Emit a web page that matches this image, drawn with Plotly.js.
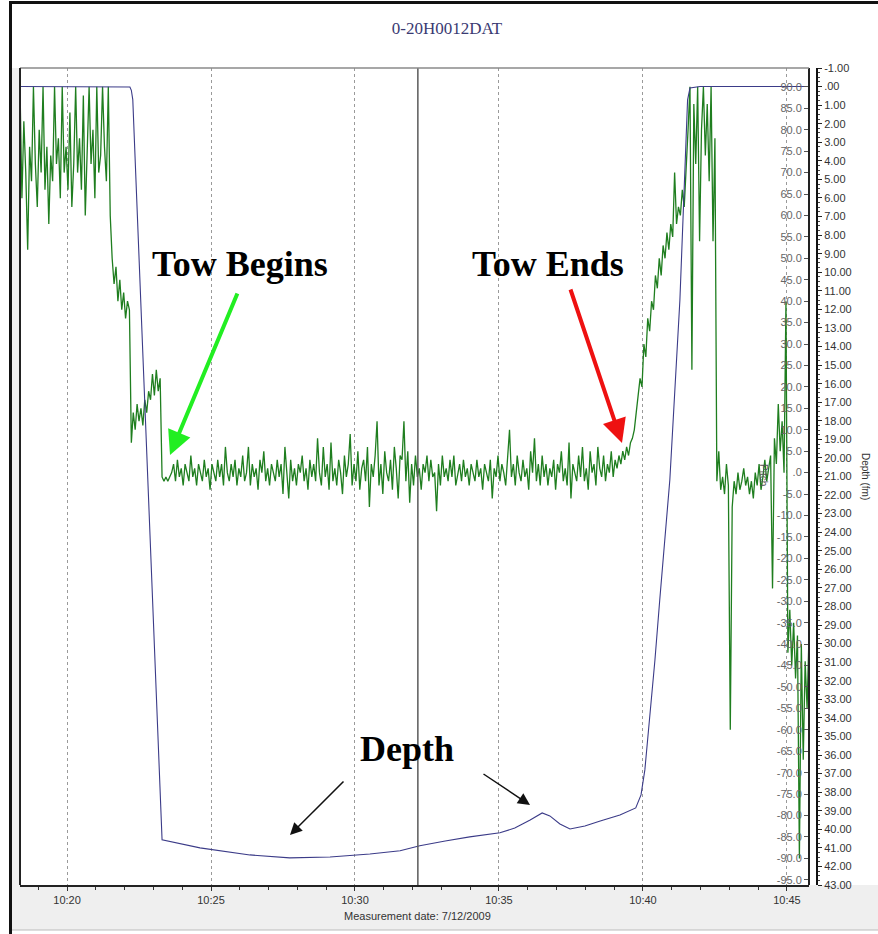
<!DOCTYPE html>
<html><head><meta charset="utf-8">
<script src="https://cdn.plot.ly/plotly-3.0.1.min.js"></script>
<style>
html,body{margin:0;padding:0;background:#fff;width:878px;height:934px;overflow:hidden}
#frame{position:absolute;left:9px;top:1px;width:869px;height:933px;border-left:3px solid #111;border-top:3px solid #111;box-sizing:border-box}
#chart{position:absolute;left:12px;top:4px;width:866px;height:930px}
</style></head><body>
<div id="frame"></div>
<div id="chart"></div>
<script>
// ---------- data ----------
const DAY = '2009-07-12';
const chartTitle = '0-20H0012DAT';
const xTitle = 'Measurement date: 7/12/2009';

// Depth (fathoms)
const depthTime = ['10:18:22','10:22:11','10:22:14','10:22:17','10:23:18','10:23:45','10:24:37','10:26:21','10:27:44',
  '10:29:08','10:30:31','10:31:34','10:32:15','10:33:08','10:33:59','10:35:02','10:35:33','10:36:05','10:36:30',
  '10:36:46','10:37:07','10:37:28','10:37:59','10:38:31','10:39:12','10:39:45','10:39:56','10:40:04','10:40:14',
  '10:40:25','10:40:35','10:40:46','10:40:56','10:41:17','10:41:33','10:41:38','10:41:59','10:46:00'];
const depthValue = [0.00,0.02,0.2,0.7,40.57,40.73,41.0,41.38,41.54,
  41.49,41.33,41.16,40.89,40.63,40.41,40.19,39.93,39.50,39.12,
  39.28,39.71,39.98,39.82,39.55,39.23,38.85,38.15,36.80,34.11,
  30.88,27.65,24.42,21.19,11.49,0.72,0.08,0.0,0.0];

// Pitch (deg) logger samples, one every pitchStepSec seconds from pitchStart
const pitchStart = '10:18:22';
const pitchStepSec = 4;
const pitchBeforeTow = [90,64,82,70,52,76,68,90,72,62,80,70,90,66,76,58,74,68,90,72,78,64,90,70,76,66,84,62,72,90,
  70,78,66,88,60,74,90,72,80,64,90,70,74,90,76,68,90,
  60,50,44,48,40,45,38,42,36,40,38,
  7,14,10,16,12,15,11,17,14,19,17,23,18,24,19,22];
const pitchTow = [-1,-2,-1,-2,-1,0,2,-2,3,-1,
  1,-3,2,0,-2,4,-1,1,-3,2,
  0,-2,3,-1,1,-4,2,0,-2,3,
  -1,2,-3,6,0,-2,2,-1,3,-3,
  1,-1,4,-2,0,6,-3,2,-1,1,
  -4,3,0,5,-2,1,-3,2,0,-2,
  3,-1,2,-5,6,0,-6,3,-2,1,
  -3,2,0,4,-2,1,-4,3,-1,2,
  -2,8,0,-3,6,-1,2,-4,7,-2,
  1,-3,3,0,-5,4,-1,2,9,-3,
  2,-2,5,-4,1,3,-2,6,-8,2,
  -1,4,12,-3,2,-5,5,0,-2,3,
  -4,6,1,-6,4,3,12,-2,5,-7,
  2,-3,4,-1,1,-4,2,0,4,-2,
  3,-1,0,-9,2,-3,4,-1,1,-2,
  3,-1,4,-3,0,2,-2,3,-1,1,
  -3,2,0,-2,3,-1,1,-4,2,0,
  -2,3,-6,1,-1,4,-2,2,0,-3,
  3,10,-1,2,-3,4,0,-2,3,-1,
  1,-4,5,0,8,-2,2,-3,4,-1,
  2,-3,1,-1,3,-4,2,0,5,-2,
  1,-3,7,-6,2,0,-2,4,-1,6,
  -2,1,-4,5,0,2,-3,6,1,-1,
  4,-2,2,0,5,-1,3,1,4,2,
  5,3,6,4,7];
const pitchAfterTow = [8,10,14,18,22,20,30,27,36,33,40,38,46,43,50,46,53,50,56,52,58,55,70,58,62,60,66,62,70,80,90,
  24,86,72,90,54,80,90,74,86,68,90,54,78,
  -2,5,-4,-1,-5,2,-3,-60,-8,-2,-5,0,-4,-2,1,-3,-1,-5,-2,-6,0,-3,2,-4,-1,3,-2,1,4,-27,8,2,16,5,12,0,
  40,-42,-32,-45,-35,-48,-38,-90,-40,-67,-44,-55,-38];

// axis ticks
const pitchTickVals = [90,85,80,75,70,65,60,55,50,45,40,35,30,25,20,15,10,5,0,-5,-10,-15,-20,-25,-30,-35,-40,-45,
  -50,-55,-60,-65,-70,-75,-80,-85,-90,-95];
const pitchTickText = ['90.0','85.0','80.0','75.0','70.0','65.0','60.0','55.0','50.0','45.0','40.0','35.0','30.0',
  '25.0','20.0','15.0','10.0','5.0','.0','-5.0','-10.0','-15.0','-20.0','-25.0','-30.0','-35.0','-40.0','-45.0',
  '-50.0','-55.0','-60.0','-65.0','-70.0','-75.0','-80.0','-85.0','-90.0','-95.0'];
const depthTickVals = [-1,0,1,2,3,4,5,6,7,8,9,10,11,12,13,14,15,16,17,18,19,20,21,22,23,24,25,26,27,28,29,30,
  31,32,33,34,35,36,37,38,39,40,41,42,43];
const depthTickText = ['-1.00','.00','1.00','2.00','3.00','4.00','5.00','6.00','7.00','8.00','9.00','10.00',
  '11.00','12.00','13.00','14.00','15.00','16.00','17.00','18.00','19.00','20.00','21.00','22.00','23.00',
  '24.00','25.00','26.00','27.00','28.00','29.00','30.00','31.00','32.00','33.00','34.00','35.00','36.00',
  '37.00','38.00','39.00','40.00','41.00','42.00','43.00'];
const cursorTime = '10:32:11';

// ---------- build ----------
const pitchValue = pitchBeforeTow.concat(pitchTow, pitchAfterTow);
const startMs = new Date(DAY + 'T' + pitchStart + 'Z').getTime();
function fmt(ms){ return new Date(ms).toISOString().replace('T',' ').slice(0,19); }
const pitchTime = pitchValue.map((v,i) => fmt(startMs + i*pitchStepSec*1000));
const depthX = depthTime.map(t => DAY + ' ' + t);

const traces = [
  {x: pitchTime, y: pitchValue, type:'scatter', mode:'lines', yaxis:'y',
   line:{color:'#1f7e1f', width:1.3}, hoverinfo:'skip'},
  {x: depthX, y: depthValue, type:'scatter', mode:'lines', yaxis:'y2',
   line:{color:'#3b3b88', width:1.1}, hoverinfo:'skip'}
];

const XD = 0.98996;
function px2x(p){ return (p-20)/797; }
function py2y(p){ return (885-p)/817; }

const sans = '"Liberation Sans", Arial, sans-serif';
const serifBold = {family:'"Liberation Serif", "Times New Roman", serif', size:36, color:'#000'};
function label(text, px, py, font, extra){
  return Object.assign({text:text, xref:'paper', yref:'paper', x:px2x(px), y:py2y(py),
    xanchor:'center', yanchor:'middle', showarrow:false, font:font}, extra||{});
}
function arrow(tx, ty, ax, ay, color, w, s){
  return {text:'', xref:'paper', yref:'paper', x:px2x(tx), y:py2y(ty), ax:ax, ay:ay, showarrow:true,
    arrowhead:2, arrowsize:s, arrowwidth:w, arrowcolor:color, standoff:0};
}

const layout = {
  width:866, height:930,
  margin:{l:8, r:61, t:64, b:49},
  paper_bgcolor:'#ffffff', plot_bgcolor:'#ffffff',
  showlegend:false,
  title:{text:chartTitle, x:0.5023, xref:'container', xanchor:'center', y:0.974, yref:'container', yanchor:'middle',
         font:{family:'"Liberation Serif", "Times New Roman", serif', size:17, color:'#3a3a72'}},
  xaxis:{type:'date', domain:[0,XD],
    range:[DAY+' 10:18:22', DAY+' 10:45:46'],
    tickmode:'linear', tick0:DAY+' 10:20:00', dtick:300000, tickformat:'%H:%M',
    ticks:'outside', ticklen:4, tickcolor:'#333',
    minor:{dtick:60000, ticks:'outside', ticklen:3, tickcolor:'#333', showgrid:false},
    showgrid:true, gridcolor:'#9a9a9a', griddash:'dot', gridwidth:1,
    showline:true, linecolor:'#222', linewidth:2, mirror:false, zeroline:false,
    tickfont:{family:sans, size:11, color:'#333'}},
  yaxis:{range:[-96.2, 94.4], side:'left', anchor:'free', position:XD,
    tickmode:'array', tickvals:pitchTickVals, ticktext:pitchTickText,
    ticks:'outside', ticklen:4, tickcolor:'#555',
    showgrid:false, zeroline:false, showline:true, linecolor:'#222', linewidth:2,
    tickfont:{family:sans, size:11, color:'#666'}},
  yaxis2:{range:[43,-1], overlaying:'y', side:'right', anchor:'free', position:1,
    tickmode:'array', tickvals:depthTickVals, ticktext:depthTickText,
    ticks:'outside', ticklen:4, tickcolor:'#222',
    minor:{dtick:0.25, ticks:'outside', ticklen:2, tickcolor:'#444'},
    showgrid:false, zeroline:false, showline:true, linecolor:'#111', linewidth:2,
    tickfont:{family:sans, size:11, color:'#333'}},
  shapes:[
    {type:'rect', xref:'paper', yref:'paper', x0:px2x(12), x1:px2x(878), y0:py2y(930), y1:0,
     fillcolor:'#efefef', line:{width:0}, layer:'below'},
    {type:'rect', xref:'paper', yref:'paper', x0:px2x(12), x1:0, y0:0, y1:1,
     fillcolor:'#efefef', line:{width:0}, layer:'below'},
    {type:'line', xref:'paper', yref:'paper', x0:px2x(12), x1:px2x(878), y0:py2y(930), y1:py2y(930),
     line:{color:'#bbbbbb', width:1}},
    {type:'line', xref:'x', yref:'paper', x0:DAY+' '+cursorTime, x1:DAY+' '+cursorTime, y0:0, y1:1,
     line:{color:'#5a5a5a', width:1.5}},
    {type:'line', xref:'paper', yref:'paper', x0:0, x1:XD, y0:1, y1:1, line:{color:'#8a8a8a', width:1.5}},
    {type:'line', xref:'paper', yref:'paper', x0:0, x1:0, y0:0, y1:1, line:{color:'#222', width:2}}
  ],
  annotations:[
    label('<b>Tow Begins</b>', 240, 264, serifBold),
    label('<b>Tow Ends</b>', 548, 264, serifBold),
    label('<b>Depth</b>', 407, 749, serifBold),
    arrow(170, 455, 68, -163, '#22ee22', 4, 1.2),
    arrow(622, 443, -52, -155, '#ee1111', 4, 1.2),
    arrow(290, 835, 55, -55, '#111', 1.5, 1.6),
    arrow(530, 805, -48, -32, '#111', 1.5, 1.6),
    label(xTitle, 417, 916, {family:sans, size:11, color:'#333'}),
    label('Pitch', 764, 475, {family:sans, size:10, color:'#555'}, {textangle:90}),
    label('Depth (fm)', 866, 476, {family:sans, size:10, color:'#333'}, {textangle:90})
  ]
};
Plotly.newPlot('chart', traces, layout, {displayModeBar:false, staticPlot:true});
</script></body></html>
